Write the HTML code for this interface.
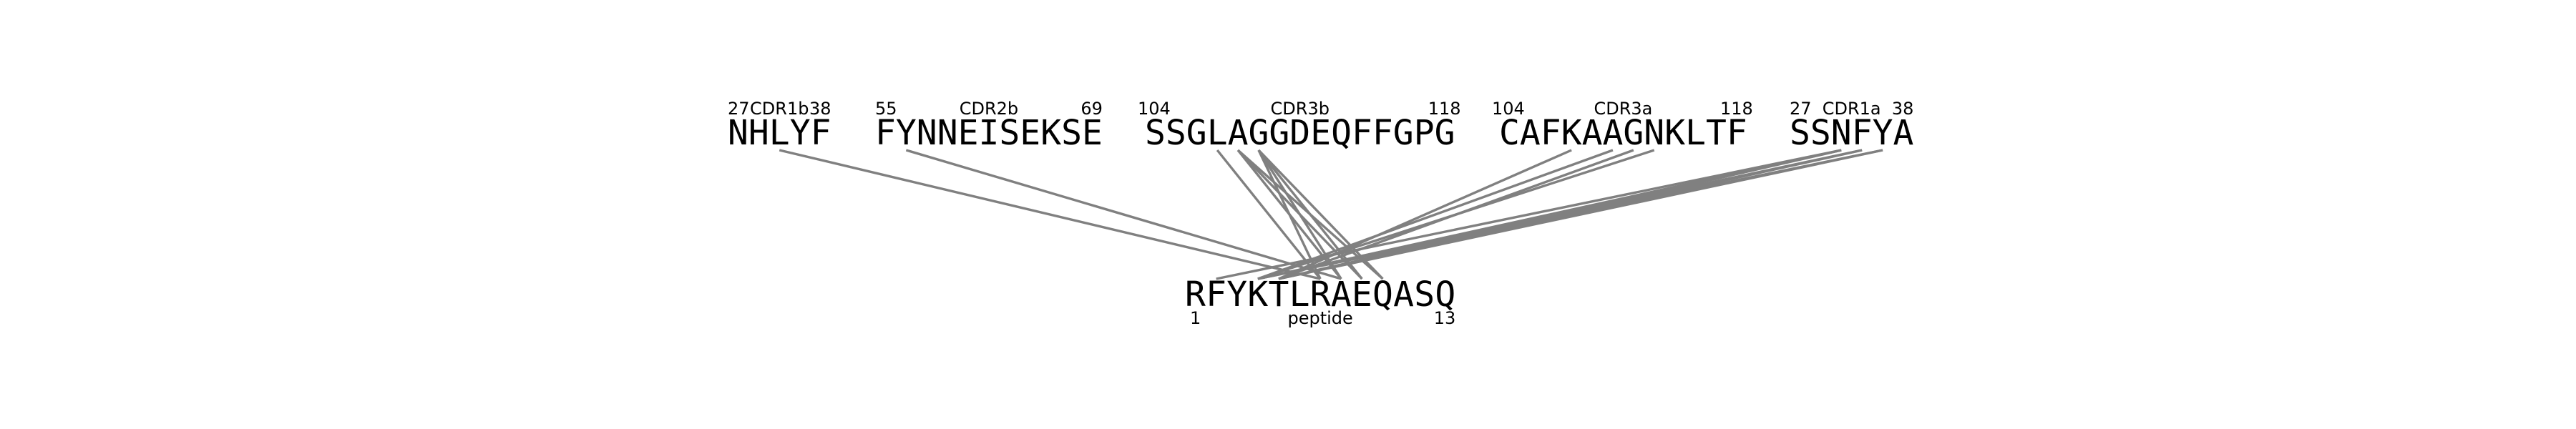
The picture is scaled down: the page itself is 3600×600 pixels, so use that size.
<!DOCTYPE html>
<html><head><meta charset="utf-8"><style>
html,body{margin:0;padding:0;background:#fff;}
svg{display:block;}
.seq{font-family:"DejaVu Sans Mono","Liberation Mono",monospace;font-size:48px;fill:#000;}
.lab{font-family:"DejaVu Sans","Liberation Sans",sans-serif;font-size:24px;fill:#000;}
</style></head><body>
<svg id="chart" width="3600" height="600" viewBox="0 0 3600 600" xmlns="http://www.w3.org/2000/svg">
<g id="lines"></g>
<g id="texts"></g>
</svg>
<script>
const groupNames = ["CDR1b","CDR2b","CDR3b","CDR3a","CDR1a"];
const groupSeqs = ["NHLYF","FYNNEISEKSE","SSGLAGGDEQFFGPG","CAFKAAGNKLTF","SSNFYA"];
const groupStartNums = ["27","55","104","104","27"];
const groupEndNums = ["38","69","118","118","38"];
const peptideSeq = "RFYKTLRAEQASQ";
const contactGroup = [0,1,2,2,2,2,2,2,2,2,3,3,3,3,4,4,4,4,4,4,4];
const contactRes =   [2,1,3,4,4,4,5,5,5,5,3,5,6,7,2,2,2,3,3,4,4];
const contactPep =   [6,7,6,7,8,9,6,7,8,9,4,3,4,3,1,3,4,3,4,3,4];

const NS="http://www.w3.org/2000/svg";
const CW=28.9, FS=48;
const groupX=[1017,1223,1600,2095,2501];
const topBase=202, pepX=1656, pepBase=428;
const lineTopY=210, lineBotY=390;
function topCharX(g,i){return groupX[g]+(i+0.5)*CW;}
function pepCharX(j){return pepX+(j+0.5)*29.1;}
const lg=document.getElementById('lines'), tg=document.getElementById('texts');
function txt(x,y,s,cls,anchor,name){
  const t=document.createElementNS(NS,'text');
  t.setAttribute('x',x);t.setAttribute('y',y);t.setAttribute('class',cls);
  t.setAttribute('text-anchor',anchor);t.textContent=s;
  
  
  tg.appendChild(t);return t;
}
for(let k=0;k<contactGroup.length;k++){
  const l=document.createElementNS(NS,'line');
  l.setAttribute('x1',topCharX(contactGroup[k],contactRes[k]));
  l.setAttribute('y1',lineTopY);
  l.setAttribute('x2',pepCharX(contactPep[k]));
  l.setAttribute('y2',lineBotY);
  l.setAttribute('stroke','#808080');l.setAttribute('stroke-width','3.4');
  
  
  lg.appendChild(l);
}
for(let g=0;g<groupSeqs.length;g++){
  const x0=groupX[g], w=groupSeqs[g].length*CW;
  const t=txt(x0,topBase,groupSeqs[g],'seq','start','sequence-'+groupNames[g].toLowerCase());
  t.setAttribute('textLength',w);
  txt(x0-(g==2||g==3?10:0),160,groupStartNums[g],'lab','start','start-number');
  txt(x0+w/2,160,groupNames[g],'lab','middle','region-name');
  txt(x0+w+(g==2||g==3?8:0),160,groupEndNums[g],'lab','end','end-number');
}
const pw=peptideSeq.length*29.1;
const pt=txt(pepX,pepBase,peptideSeq,'seq','start','peptide-sequence');
pt.setAttribute('textLength',pw);
txt(pepX+7,453,"1",'lab','start','peptide-start-number');
txt(pepX+pw/2,453,"peptide",'lab','middle','peptide-label');
txt(pepX+pw,453,"13",'lab','end','peptide-end-number');
</script>
</body></html>
